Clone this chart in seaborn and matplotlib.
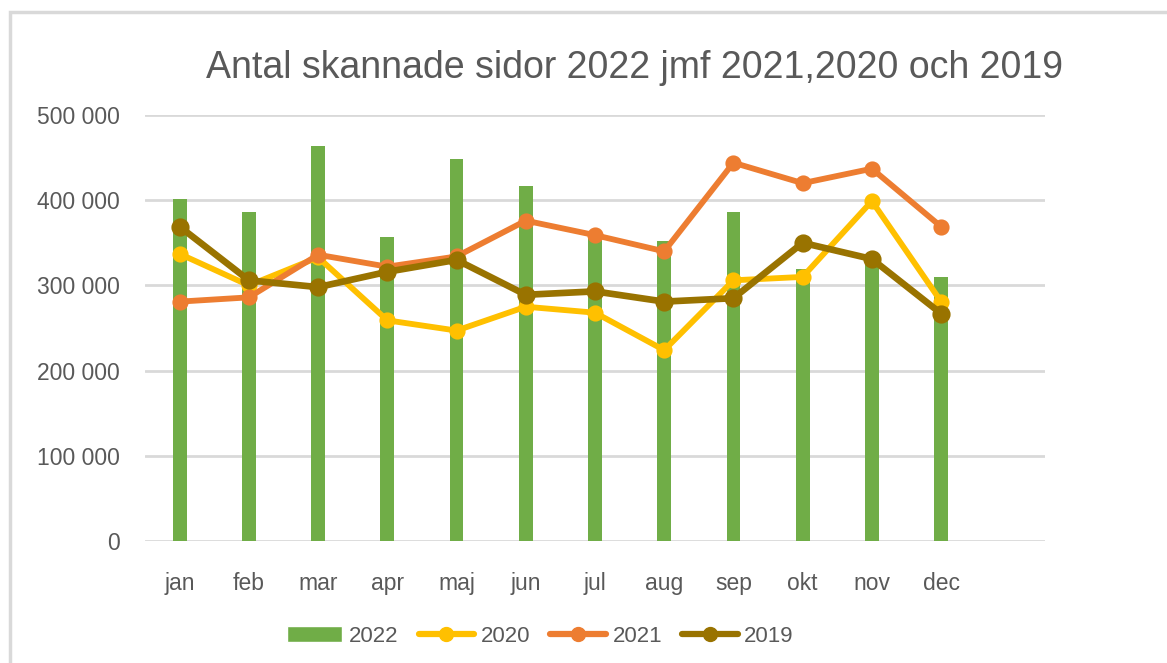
import numpy as np
import pandas as pd
import matplotlib
matplotlib.use("Agg")
import matplotlib.pyplot as plt
import seaborn as sns
from matplotlib.lines import Line2D
from matplotlib.patches import Patch, Rectangle
from matplotlib.ticker import FuncFormatter

months = ["jan", "feb", "mar", "apr", "maj", "jun", "jul", "aug", "sep", "okt", "nov", "dec"]
pages_2022 = [401000, 386000, 464000, 357000, 448000, 417000, 359000, 352000, 386000, 319000, 333000, 310000]
pages_2020 = [337000, 300000, 333000, 259000, 247000, 275000, 268000, 224000, 306000, 310000, 399000, 281000]
pages_2021 = [281000, 286000, 336000, 322000, 334000, 376000, 359000, 340000, 444000, 420000, 437000, 369000]
pages_2019 = [369000, 306000, 298000, 316000, 330000, 289000, 293000, 281000, 285000, 350000, 331000, 267000]

colors = {"2022": "#70AD47", "2020": "#FFC000", "2021": "#ED7D31", "2019": "#997300"}
text_color = "#595959"

sns.set_theme(style="white")
plt.rcParams["font.family"] = ["Liberation Sans Narrow", "Liberation Sans", "DejaVu Sans"]

fig = plt.figure(figsize=(11.67, 6.63), dpi=100)
ax = fig.add_axes([0.1243, 0.184, 0.7711, 0.6425])

# outer chart frame
fig.patches.append(Rectangle((10 / 1167, -0.1), 1.1, 1.1 - 12 / 663,
                             transform=fig.transFigure, fill=False,
                             edgecolor="#D9D9D9", linewidth=2.5))

bars = pd.DataFrame({"month": months, "value": pages_2022})
sns.barplot(data=bars, x="month", y="value", order=months, color=colors["2022"],
            width=0.2, saturation=1, linewidth=0, ax=ax, zorder=2)

lines = pd.concat([
    pd.DataFrame({"month": months, "value": pages_2020, "year": "2020"}),
    pd.DataFrame({"month": months, "value": pages_2021, "year": "2021"}),
    pd.DataFrame({"month": months, "value": pages_2019, "year": "2019"}),
])
for year, lw, ms in [("2020", 4.2, 8.5), ("2021", 4.2, 8.5), ("2019", 4.8, 9.5)]:
    sub = lines[lines["year"] == year]
    sns.pointplot(data=sub, x="month", y="value", order=months, color=colors[year],
                  markers="o", linewidth=lw, markersize=ms, ax=ax, zorder=3)

ax.set_xlim(-0.5, 12.5)
ax.set_ylim(0, 500000)
ax.set_yticks(np.arange(0, 500001, 100000))
ax.yaxis.set_major_formatter(FuncFormatter(lambda v, p: f"{int(v):,}".replace(",", " ")))
ax.grid(axis="y", color="#D9D9D9", linewidth=2)
ax.set_axisbelow(True)
for s in ax.spines.values():
    s.set_visible(False)
ax.set_xlabel("")
ax.set_ylabel("")
ax.tick_params(axis="both", length=0, labelsize=16.5, labelcolor=text_color)
ax.tick_params(axis="x", pad=22)
ax.tick_params(axis="y", pad=18)

fig.text(0.544, 0.898, "Antal skannade sidor 2022 jmf 2021,2020 och 2019",
         ha="center", va="center", fontsize=27, color=text_color)

handles = [Patch(facecolor=colors["2022"], label="2022")]
for year in ["2020", "2021", "2019"]:
    handles.append(Line2D([0], [0], color=colors[year], lw=4.5, marker="o", markersize=10,
                          label=year))
fig.legend(handles=handles, loc="center", bbox_to_anchor=(0.463, 0.04), ncol=4,
           frameon=False, fontsize=16, labelcolor=text_color, handlelength=2.5,
           handletextpad=0.3, columnspacing=0.9)

fig.savefig("out.png", dpi=100)
